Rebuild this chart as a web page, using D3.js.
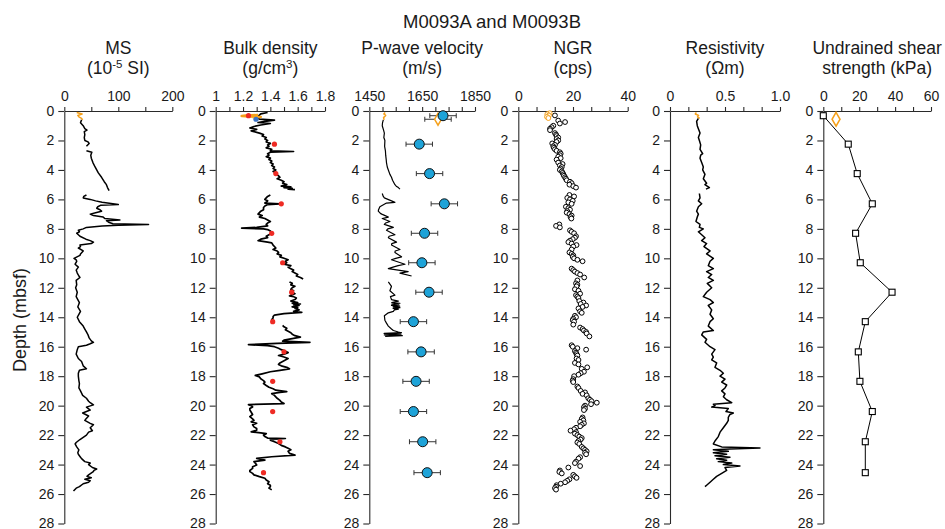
<!DOCTYPE html>
<html>
<head>
<meta charset="utf-8">
<script src="https://cdn.jsdelivr.net/npm/d3@7/dist/d3.min.js"></script>
<style>
  body { margin: 0; background: #fff; }
  svg { display: block; font-family: "Liberation Sans", Arial, Helvetica, sans-serif; }
</style>
</head>
<body>
<svg id="chart" width="945" height="529"></svg>
<script>
// ---------------- Data ----------------
// Depths (mbsf) of the discrete samples shared by MAD, P-wave and shear measurements
const sampleDepth = [0.32, 2.25, 4.25, 6.3, 8.3, 10.3, 12.3, 14.3, 16.35, 18.35, 20.4, 22.45, 24.55];
const madDensity = [1.24, 1.43, 1.44, 1.48, 1.41, 1.49, 1.556, 1.417, 1.50, 1.417, 1.417, 1.47, 1.35];
const discreteVp = [1729, 1639, 1678, 1734, 1659, 1649, 1676, 1617, 1646, 1627, 1617, 1652, 1669];
const vpError = 50;
const shearStrength = [0, 13.9, 18.9, 27.3, 18.0, 20.6, 38.3, 23.4, 19.5, 20.4, 27.3, 23.4, 23.4];

// Hole M0093B single measurements (depth, value)
const holeBDensity = [0.56, 1.295];
const holeBVp = [0.56, 1710];
const holeBShear = [0.56, 7.1];

// Magnetic susceptibility (10^-5 SI): [depth, value]; null marks a gap
const msHoleB = [[0.1,23],[0.2,33],[0.3,25],[0.4,27],[0.5,32],[0.6,34]];
const msCore = [[0.6,32],[0.8,30],[1.0,35],[1.2,38],[1.3,42],[1.4,37],[1.6,38],[1.8,37],[2.0,38],[2.1,44],[2.2,46],[2.4,41],null,
  [2.7,41],[2.8,51],[3.0,49],[3.2,50],[3.5,53],[3.8,57],[4.0,60],[4.2,63],[4.5,69],[4.8,74],[5.0,78],[5.2,80],[5.4,83],null,
  [5.7,41],[5.8,36],[5.9,35],[6.0,48],[6.1,58],[6.2,70],[6.35,100],[6.4,67],[6.5,62],[6.6,60],[6.7,66],[6.8,69],[6.9,58],[7.0,48],
  [7.1,54],[7.2,72],[7.3,75],[7.4,103],[7.45,78],[7.55,82],[7.65,90],[7.7,156],[7.75,100],[7.8,70],[7.9,41],[8.0,35],[8.1,26],
  [8.2,28],[8.3,23],[8.5,29],[8.7,40],[8.8,48],[8.9,54],[9.0,50],[9.1,29],[9.2,30],[9.3,26],[9.5,35],[9.7,30],[9.8,29],[10.0,18],
  [10.1,22],[10.2,23],[10.4,20],[10.6,26],[10.8,22],[11.0,24],[11.2,27],[11.3,29],[11.5,22],[11.8,23],[12.0,21],[12.3,24],[12.6,22],
  [12.8,25],[13.0,28],[13.3,25],[13.6,30],[13.8,27],[14.0,24],[14.3,28],[14.6,35],[14.8,38],[15.0,41],[15.2,44],[15.4,46],[15.6,50],
  [15.7,54],[15.8,48],[15.9,41],[16.0,26],[16.2,24],[16.5,22],[16.8,26],[17.0,32],[17.3,35],[17.5,41],[17.6,28],[17.8,26],[18.0,26],
  [18.3,27],[18.5,28],[18.8,27],[19.0,30],[19.3,34],[19.5,41],[19.7,45],[19.8,48],[19.95,54],[20.1,41],[20.3,48],[20.5,34],[20.7,45],
  [20.9,40],[21.0,38],[21.2,48],[21.3,54],[21.5,48],[21.7,52],[21.8,45],[22.0,41],[22.2,33],[22.3,29],[22.5,22],[22.6,20],[22.8,23],
  [23.0,27],[23.2,25],[23.3,26],[23.5,30],[23.6,32],[23.8,38],[23.9,48],[24.0,45],[24.2,52],[24.3,60],[24.4,55],[24.5,53],[24.7,45],
  [24.8,42],[24.9,50],[25.0,38],[25.1,48],[25.2,45],[25.3,35],[25.5,28],[25.6,22],[25.8,17]];

// Gamma density (g/cm3)
const densityHoleB = [[0.27,1.31],[0.31,1.22],[0.34,1.19],[0.37,1.25],[0.4,1.33],[0.43,1.27]];
const densityCore = [[0.1,1.38],[0.2,1.33],[0.45,1.30],[0.55,1.32],[0.62,1.43],[0.7,1.36],[0.78,1.31],[0.85,1.40],[0.95,1.33],
  [1.05,1.28],[1.15,1.25],[1.25,1.30],[1.35,1.26],[1.5,1.32],[1.6,1.35],[1.7,1.34],[1.8,1.37],[1.9,1.36],[2.0,1.38],[2.1,1.37],
  [2.2,1.40],[2.3,1.38],[2.4,1.39],[2.5,1.37],[2.6,1.41],[2.7,1.40],[2.75,1.57],[2.8,1.40],[2.9,1.38],[3.0,1.39],[3.1,1.37],
  [3.2,1.40],[3.3,1.39],[3.4,1.41],[3.5,1.40],[3.6,1.42],[3.7,1.41],[3.8,1.43],[3.9,1.42],[4.0,1.44],[4.1,1.42],[4.2,1.45],
  [4.3,1.44],[4.4,1.46],[4.5,1.47],[4.6,1.45],[4.7,1.48],[4.8,1.50],[4.9,1.49],[5.0,1.52],[5.1,1.48],[5.15,1.55],[5.2,1.50],
  [5.25,1.56],[5.3,1.53],[5.34,1.58],null,
  [5.7,1.40],[5.8,1.38],[5.9,1.37],[6.0,1.36],[6.1,1.38],[6.2,1.37],[6.25,1.36],[6.3,1.47],[6.35,1.38],[6.45,1.36],[6.55,1.35],
  [6.7,1.35],[6.8,1.33],[6.9,1.32],[7.0,1.31],[7.1,1.34],[7.2,1.32],[7.3,1.36],[7.4,1.38],[7.5,1.40],[7.6,1.38],[7.7,1.37],
  [7.8,1.38],[7.9,1.30],[7.95,1.19],[8.0,1.35],[8.05,1.38],[8.15,1.40],[8.25,1.41],[8.35,1.40],[8.5,1.37],[8.6,1.38],[8.7,1.33],
  [8.8,1.31],[8.9,1.38],[8.95,1.41],[9.1,1.42],[9.2,1.43],[9.3,1.44],[9.4,1.42],[9.5,1.45],[9.6,1.46],[9.7,1.45],[9.8,1.48],
  [9.9,1.47],[10.0,1.50],[10.1,1.53],[10.2,1.51],[10.3,1.52],[10.4,1.50],[10.5,1.55],[10.6,1.53],[10.7,1.55],[10.8,1.57],
  [10.9,1.56],[11.0,1.58],[11.1,1.60],[11.2,1.59],[11.3,1.62],[11.4,1.64],null,
  [11.6,1.54],[11.7,1.56],[11.8,1.55],[11.9,1.58],[12.0,1.56],[12.1,1.55],[12.2,1.57],[12.3,1.56],[12.4,1.58],[12.5,1.55],
  [12.55,1.54],[12.6,1.57],[12.7,1.59],[12.8,1.58],[12.9,1.55],[13.0,1.60],[13.05,1.56],[13.1,1.62],[13.15,1.57],[13.2,1.61],
  [13.3,1.56],[13.35,1.60],[13.4,1.58],[13.5,1.61],[13.6,1.57],[13.67,1.63],[13.75,1.50],[13.85,1.43],[13.95,1.42],[14.05,1.42],
  [14.15,1.41],[14.25,1.43],null,
  [14.55,1.49],[14.65,1.50],[14.75,1.52],[14.85,1.51],[14.95,1.53],[15.05,1.55],[15.15,1.56],[15.25,1.58],[15.35,1.62],
  [15.45,1.56],[15.55,1.50],[15.62,1.49],[15.7,1.69],[15.78,1.45],[15.86,1.24],[15.93,1.38],[16.0,1.43],[16.1,1.46],[16.2,1.48],
  [16.3,1.51],[16.4,1.53],[16.5,1.50],[16.6,1.46],[16.7,1.50],[16.8,1.53],[16.9,1.51],[17.0,1.49],[17.1,1.47],[17.2,1.46],
  [17.3,1.48],[17.4,1.52],[17.5,1.54],[17.6,1.47],[17.7,1.40],[17.84,1.34],[17.95,1.29],[18.05,1.32],[18.18,1.33],[18.3,1.35],
  [18.4,1.36],[18.5,1.35],[18.63,1.37],[18.75,1.39],[18.85,1.42],[18.95,1.44],[19.05,1.52],[19.1,1.47],[19.19,1.41],[19.3,1.43],
  [19.41,1.44],[19.5,1.45],[19.64,1.47],[19.75,1.48],[19.86,1.50],[19.93,1.24],[20.0,1.26],[20.09,1.27],[20.2,1.25],[20.3,1.25],
  [20.45,1.26],[20.6,1.27],[20.75,1.25],[20.9,1.27],[21.0,1.28],[21.1,1.26],[21.2,1.30],[21.3,1.27],[21.44,1.28],[21.55,1.30],
  [21.67,1.30],[21.78,1.26],[21.85,1.33],[21.9,1.37],[22.0,1.35],[22.1,1.36],[22.2,1.38],[22.23,1.51],[22.3,1.40],[22.34,1.40],
  [22.45,1.43],[22.57,1.46],[22.7,1.48],[22.8,1.51],[22.9,1.53],[23.0,1.55],[23.1,1.53],[23.24,1.54],[23.36,1.58],[23.47,1.41],
  [23.58,1.30],[23.7,1.36],[23.8,1.28],[23.9,1.29],[24.03,1.30],[24.15,1.27],[24.26,1.27],[24.4,1.25],[24.48,1.25],[24.6,1.27],
  [24.7,1.28],[24.82,1.32],[24.93,1.36],[25.05,1.37],[25.16,1.39],[25.3,1.38],[25.4,1.40],[25.5,1.40],[25.6,1.39],[25.72,1.41]];

// P-wave velocity logged on whole cores (m/s)
const vpHoleB = [[0.1,1510],[0.2,1505],[0.3,1512],[0.45,1504],[0.6,1506]];
const vpCore = [[0.6,1503],[0.8,1500],[1.0,1499],[1.3,1504],[1.5,1507],[1.8,1505],[2.0,1509],[2.4,1508],[2.7,1511],[3.0,1512],
  [3.3,1514],[3.5,1515],[3.8,1518],[4.0,1522],[4.3,1528],[4.5,1534],[4.7,1538],[5.0,1547],[5.1,1552],[5.2,1560],[5.3,1566],null,
  [5.6,1499],[5.8,1503],[5.9,1507],[6.1,1534],[6.2,1547],[6.25,1515],[6.5,1490],[6.7,1485],[6.8,1484],[6.95,1492],[7.0,1497],
  [7.1,1510],[7.2,1522],[7.3,1499],[7.5,1528],[7.6,1512],[7.7,1507],[7.9,1541],[8.0,1520],[8.1,1515],[8.4,1547],[8.5,1525],
  [8.6,1522],[8.9,1553],[9.0,1535],[9.1,1534],[9.4,1566],[9.5,1548],[9.6,1547],[9.9,1572],[10.0,1550],[10.1,1534],[10.4,1585],
  [10.5,1559],[10.6,1540],[10.7,1522],[10.9,1597],[11.0,1566],[11.2,1610],null,
  [11.6,1522],[11.9,1534],[12.2,1528],[12.5,1547],[12.6,1530],[12.8,1534],[12.9,1560],[13.0,1535],[13.05,1566],[13.1,1535],
  [13.15,1562],[13.2,1534],[13.25,1565],[13.3,1540],[13.35,1566],[13.4,1540],[13.45,1560],[13.5,1545],[13.6,1541],[13.7,1522],
  [13.9,1507],[14.2,1509],[14.4,1515],[14.6,1522],[14.8,1534],[14.9,1541],[15.0,1560],[15.05,1572],[15.1,1506],[15.15,1570],
  [15.2,1507],[15.25,1575],[15.3,1510]];

// Natural gamma radiation (cps)
const ngrHoleB = [[0.15,11.5],[0.22,10.6],[0.3,11.2],[0.4,10.5],[0.48,11.0]];
const ngrCore = [[0.3,13.4],[0.65,14.6],[0.75,17.1],[0.85,15.2],[1.0,12.8],[1.1,12.2],[1.2,11.6],[1.3,11.6],[1.5,13.4],[1.6,13.8],
  [1.7,14.0],[1.8,14.6],[1.9,14.0],[2.0,14.6],[2.1,14.0],[2.2,12.4],[2.3,13.4],[2.4,12.8],[2.5,13.0],[2.6,13.4],[2.7,14.0],
  [2.8,15.2],[2.9,15.5],[3.0,15.2],[3.1,14.6],[3.2,15.5],[3.3,14.0],[3.5,14.6],[3.6,16.2],[3.7,15.2],[3.8,15.9],[3.9,15.5],
  [4.0,15.2],[4.1,15.9],[4.2,16.2],[4.3,16.5],[4.4,16.7],[4.5,17.1],[4.6,17.4],[4.7,17.7],[4.8,18.9],[4.9,19.5],[5.0,18.7],
  [5.1,20.1],[5.2,21.1],[5.7,18.7],[5.8,20.4],[5.9,17.9],[6.0,18.9],[6.1,19.9],[6.2,18.3],[6.3,19.5],[6.5,17.4],[6.6,18.3],
  [6.7,18.9],[6.8,17.9],[6.9,17.7],[7.0,18.7],[7.1,19.5],[7.2,19.1],[7.3,19.4],[7.7,15.0],[7.8,13.8],[7.9,15.2],[8.1,18.9],
  [8.2,19.5],[8.3,20.4],[8.5,21.1],[8.6,20.7],[8.7,19.9],[8.8,18.9],[8.9,18.3],[9.0,19.5],[9.1,21.3],[9.2,20.1],[9.4,19.5],
  [9.6,18.7],[9.7,19.5],[9.8,20.1],[9.9,19.9],[10.0,20.4],[10.1,21.6],[10.2,23.5],[10.7,19.5],[10.8,20.1],[10.9,20.7],[11.0,21.6],
  [11.1,22.6],[11.3,24.1],[11.5,21.6],[11.7,21.1],[11.8,21.6],[11.9,21.3],[12.1,20.7],[12.2,22.0],[12.4,22.6],[12.5,21.1],
  [12.6,21.6],[12.7,22.0],[12.9,22.3],[13.0,23.8],[13.1,22.8],[13.2,24.8],[13.3,23.5],[13.4,22.0],[13.6,22.6],[13.7,23.2],
  [13.9,20.7],[14.0,21.1],[14.1,20.1],[14.2,19.9],[14.3,20.4],[14.5,20.1],[14.7,22.6],[14.8,23.5],[14.9,24.0],[15.0,24.8],
  [15.1,25.0],[15.3,26.0],[15.9,19.5],[16.0,19.9],[16.1,21.6],[16.2,24.8],[16.3,20.7],[16.4,21.1],[16.5,21.3],[16.6,21.6],
  [16.8,21.3],[16.9,22.0],[17.1,20.7],[17.2,22.0],[17.4,25.2],[17.5,23.2],[17.7,24.0],[17.8,22.8],[17.9,22.0],[18.0,20.4],
  [18.2,20.1],[18.3,19.9],[18.4,20.1],[18.7,21.6],[18.8,22.0],[19.0,22.8],[19.1,24.4],[19.2,23.5],[19.3,25.0],[19.5,25.6],
  [19.6,26.2],[19.7,26.8],[19.8,28.7],[19.9,26.6],[20.0,24.4],[20.1,24.0],[20.2,24.4],[20.3,24.0],[20.8,23.5],[20.9,23.2],
  [21.0,23.8],[21.1,22.6],[21.2,24.0],[21.3,23.2],[21.4,22.6],[21.5,21.1],[21.6,20.4],[21.7,19.1],[21.8,21.1],[21.9,20.7],
  [22.0,21.6],[22.1,22.3],[22.2,23.2],[22.3,22.8],[22.4,22.0],[22.5,21.6],[22.6,22.3],[22.8,23.2],[22.9,23.8],[23.0,24.4],
  [23.1,25.0],[23.2,24.4],[23.3,24.8],[23.5,22.6],[23.6,22.0],[23.8,21.1],[23.9,20.7],[24.1,22.6],[24.2,18.3],[24.4,15.2],
  [24.5,15.0],[24.6,15.9],[24.7,20.1],[24.8,20.7],[24.9,21.3],[25.0,18.7],[25.1,17.9],[25.2,17.1],[25.3,15.5],[25.4,14.0],
  [25.5,13.8],[25.6,13.4],[25.7,13.8]];

// Electrical resistivity (Ωm)
const resHoleB = [[0.1,0.24],[0.2,0.23],[0.3,0.26],[0.4,0.25],[0.5,0.27]];
const resCore = [[0.5,0.258],[0.7,0.242],[1.0,0.248],[1.2,0.258],[1.5,0.273],[1.8,0.258],[2.0,0.267],[2.3,0.279],[2.6,0.273],
  [2.9,0.297],[3.0,0.279],[3.2,0.273],[3.5,0.288],[3.8,0.303],[4.0,0.297],[4.3,0.318],[4.6,0.303],[4.9,0.333],[5.0,0.318],
  [5.2,0.358],[5.3,0.327],null,
  [5.6,0.267],[5.9,0.273],[6.1,0.258],[6.3,0.288],[6.5,0.258],[6.8,0.242],[7.0,0.258],[7.2,0.248],[7.5,0.236],[7.7,0.273],
  [7.9,0.267],[8.0,0.303],[8.2,0.258],[8.4,0.288],[8.6,0.318],[8.8,0.288],[9.0,0.333],[9.2,0.309],[9.5,0.364],[9.7,0.333],
  [10.0,0.394],[10.2,0.364],[10.5,0.348],[10.7,0.394],[10.9,0.333],[11.1,0.379],[11.3,0.348],[11.5,0.394],[11.7,0.339],
  [12.0,0.379],[12.3,0.333],[12.6,0.303],[12.8,0.364],[13.0,0.394],[13.2,0.348],[13.5,0.379],[13.8,0.364],[14.1,0.394],
  [14.3,0.364],[14.6,0.348],[14.9,0.394],[15.0,0.303],[15.2,0.288],[15.5,0.333],[15.7,0.318],[16.0,0.364],[16.2,0.409],
  [16.5,0.379],[16.7,0.394],[16.9,0.379],[17.1,0.424],[17.4,0.409],[17.6,0.455],[17.8,0.485],[18.0,0.455],[18.2,0.500],
  [18.4,0.470],[18.6,0.515],[18.8,0.500],[19.0,0.470],[19.2,0.500],[19.4,0.485],[19.6,0.515],[19.8,0.561],[19.9,0.394],
  [20.0,0.409],[20.1,0.379],[20.2,0.530],[20.4,0.509],[20.5,0.576],[20.6,0.545],[20.8,0.530],[21.0,0.530],[21.2,0.515],
  [21.5,0.485],[21.8,0.455],[22.1,0.439],[22.4,0.409],[22.6,0.394],[22.8,0.470],[22.88,0.818],[22.95,0.545],[23.0,0.394],
  [23.1,0.530],[23.2,0.394],[23.3,0.515],[23.4,0.409],[23.5,0.545],[23.6,0.424],[23.7,0.515],[23.8,0.439],[23.9,0.561],
  [24.0,0.485],[24.1,0.636],[24.2,0.500],[24.4,0.515],[24.6,0.470],[24.8,0.424],[25.0,0.394],[25.2,0.364],[25.4,0.333],
  [25.5,0.318]];

// Axis tick values and the subset that carries labels
const msTicks = [0, 50, 100, 150, 200], msLabels = [0, 100, 200];
const densityTicks = [1, 1.1, 1.2, 1.3, 1.4, 1.5, 1.6, 1.7, 1.8], densityLabels = [1, 1.2, 1.4, 1.6, 1.8];
const vpTicks = [1450, 1500, 1550, 1600, 1650, 1700, 1750, 1800, 1850], vpLabels = [1450, 1650, 1850];
const ngrTicks = [0, 40/6, 80/6, 20, 160/6, 200/6, 40], ngrLabels = [0, 20, 40];
const resTicks = [0, 1/6, 2/6, 0.5, 4/6, 5/6, 1], resLabels = [0, 0.5, 1.0];
const shearTicks = [0, 10, 20, 30, 40, 50, 60], shearLabels = [0, 20, 40, 60];
const depthTicks = [0, 2, 4, 6, 8, 10, 12, 14, 16, 18, 20, 22, 24, 26, 28];

// ---------------- Layout ----------------
const svg = d3.select("#chart");
const ORANGE = "#f5a01a";
const AXIS = "#2a2a2a";
const y = d3.scaleLinear().domain([0, 28]).range([111, 523.5]);

const panels = [
  { id: "ms", title: ["MS", ["(10", "-5", " SI)"]], domain: [0, 200], range: [64.3, 172.3], ticks: msTicks, labels: msLabels, fmt: d3.format("d") },
  { id: "den", title: ["Bulk density", ["(g/cm", "3", ")"]], domain: [1, 1.8], range: [215.7, 325], ticks: densityTicks, labels: densityLabels, fmt: d => d === 1 ? "1" : d3.format(".1f")(d) },
  { id: "vp", title: ["P-wave velocity", ["(m/s)"]], domain: [1450, 1850], range: [369.3, 475], ticks: vpTicks, labels: vpLabels, fmt: d3.format("d") },
  { id: "ngr", title: ["NGR", ["(cps)"]], domain: [0, 40], range: [518.3, 627.7], ticks: ngrTicks, labels: ngrLabels, fmt: d3.format("d") },
  { id: "res", title: ["Resistivity", ["(Ωm)"]], domain: [0, 1], range: [670, 780], ticks: resTicks, labels: resLabels, fmt: d => d === 0 ? "0" : d3.format(".1f")(d) },
  { id: "shear", title: ["Undrained shear", ["strength (kPa)"]], domain: [0, 60], range: [823.3, 931], ticks: shearTicks, labels: shearLabels, fmt: d3.format("d") }
];

const xs = {};
panels.forEach(p => {
  const x = d3.scaleLinear().domain(p.domain).range(p.range);
  xs[p.id] = x;
  const cx = (p.range[0] + p.range[1]) / 2;

  // two-line panel heading
  svg.append("text").attr("x", cx).attr("y", 53.5).attr("text-anchor", "middle")
    .attr("font-size", 17.5).attr("fill", "#1a1a1a").text(p.title[0]);
  const sub = svg.append("text").attr("x", cx).attr("y", 73.5).attr("text-anchor", "middle")
    .attr("font-size", 17.5).attr("fill", "#1a1a1a");
  const parts = p.title[1];
  sub.append("tspan").text(parts[0]);
  if (parts.length > 1) {
    sub.append("tspan").attr("dy", -6).attr("font-size", 11.5).text(parts[1]);
    sub.append("tspan").attr("dy", 6).text(parts[2]);
  }

  // top value axis
  const xAxis = d3.axisTop(x).tickValues(p.ticks).tickSize(4).tickSizeOuter(0).tickPadding(6)
    .tickFormat(d => p.labels.some(l => Math.abs(l - d) < 1e-9) ? p.fmt(d) : "");
  const gx = svg.append("g").attr("transform", `translate(0,${y(0)})`).call(xAxis);

  // depth axis
  const yAxis = d3.axisLeft(y).tickValues(depthTicks).tickSize(6).tickSizeOuter(0).tickPadding(4)
    .tickFormat(d3.format("d"));
  const gy = svg.append("g").attr("transform", `translate(${p.range[0]},0)`).call(yAxis);

  [gx, gy].forEach(g => {
    g.selectAll("path").attr("stroke", AXIS).attr("stroke-width", 1.1);
    g.selectAll("line").attr("stroke", AXIS).attr("stroke-width", 1.1);
    g.selectAll("text").attr("font-size", 14).attr("fill", "#1a1a1a")
      .attr("font-family", "Liberation Sans, Arial, sans-serif");
  });
});

// main heading and depth label
svg.append("text").attr("x", 492).attr("y", 28).attr("text-anchor", "middle")
  .attr("font-size", 18.5).attr("fill", "#1a1a1a").text("M0093A and M0093B");
svg.append("text").attr("transform", "translate(26,320) rotate(-90)").attr("text-anchor", "middle")
  .attr("font-size", 18).attr("fill", "#1a1a1a").text("Depth (mbsf)");

// line helper: each series is [depth, value] with null gaps
function drawLine(id, data, color, width) {
  const x = xs[id];
  const line = d3.line().defined(d => d !== null).x(d => x(d[1])).y(d => y(d[0]));
  svg.append("path").datum(data).attr("d", line).attr("fill", "none")
    .attr("stroke", color).attr("stroke-width", width).attr("stroke-linejoin", "round");
}

// MS
drawLine("ms", msCore, "#000", 1.5);
drawLine("ms", msHoleB, ORANGE, 1.5);

// Bulk density
drawLine("den", densityCore, "#000", 1.7);
drawLine("den", densityHoleB, ORANGE, 2.5);
svg.append("g").selectAll("circle").data(sampleDepth).join("circle")
  .attr("cx", (d, i) => xs.den(madDensity[i])).attr("cy", d => y(d)).attr("r", 2.6).attr("fill", "#ee2b24");
svg.append("circle").attr("cx", xs.den(holeBDensity[1])).attr("cy", y(holeBDensity[0])).attr("r", 2.6).attr("fill", "#3d74c6");

// P-wave velocity
drawLine("vp", vpCore, "#000", 1.2);
drawLine("vp", vpHoleB, ORANGE, 1.5);
function errorBar(g, x, depth, v, err) {
  const yy = y(depth);
  g.append("line").attr("x1", x(v - err)).attr("x2", x(v + err)).attr("y1", yy).attr("y2", yy);
  g.append("line").attr("x1", x(v - err)).attr("x2", x(v - err)).attr("y1", yy - 2.5).attr("y2", yy + 2.5);
  g.append("line").attr("x1", x(v + err)).attr("x2", x(v + err)).attr("y1", yy - 2.5).attr("y2", yy + 2.5);
}
const eb = svg.append("g").attr("stroke", "#333").attr("stroke-width", 1);
sampleDepth.forEach((d, i) => errorBar(eb, xs.vp, d, discreteVp[i], vpError));
errorBar(eb, xs.vp, holeBVp[0], holeBVp[1], vpError);
const dia = d3.symbol().type(d3.symbolDiamond).size(40);
svg.append("path").attr("d", dia()).attr("transform", `translate(${xs.vp(holeBVp[1])},${y(holeBVp[0])})`)
  .attr("fill", "#fff").attr("stroke", ORANGE).attr("stroke-width", 1.5);
svg.append("g").selectAll("circle").data(sampleDepth).join("circle")
  .attr("cx", (d, i) => xs.vp(discreteVp[i])).attr("cy", d => y(d)).attr("r", 5)
  .attr("fill", "#1ea3d8").attr("stroke", "#111").attr("stroke-width", 1);

// NGR
svg.append("g").selectAll("circle").data(ngrCore).join("circle")
  .attr("cx", d => xs.ngr(d[1])).attr("cy", d => y(d[0])).attr("r", 2.4)
  .attr("fill", "#fff").attr("stroke", "#000").attr("stroke-width", 1);
svg.append("g").selectAll("circle").data(ngrHoleB).join("circle")
  .attr("cx", d => xs.ngr(d[1])).attr("cy", d => y(d[0])).attr("r", 2.4)
  .attr("fill", "#fff").attr("stroke", ORANGE).attr("stroke-width", 1);

// Resistivity
drawLine("res", resCore, "#000", 1.5);
drawLine("res", resHoleB, ORANGE, 1.5);

// Undrained shear strength
svg.append("path").datum(sampleDepth).attr("fill", "none").attr("stroke", "#000").attr("stroke-width", 1)
  .attr("d", d3.line().x((d, i) => xs.shear(shearStrength[i])).y(d => y(d)));
svg.append("g").selectAll("rect").data(sampleDepth).join("rect")
  .attr("x", (d, i) => xs.shear(shearStrength[i]) - 3).attr("y", d => y(d) - 3)
  .attr("width", 6).attr("height", 6).attr("fill", "#fff").attr("stroke", "#000").attr("stroke-width", 1.1);
svg.append("path").attr("d", d3.symbol().type(d3.symbolDiamond).size(55)())
  .attr("transform", `translate(${xs.shear(holeBShear[1])},${y(holeBShear[0])})`)
  .attr("fill", "#fff").attr("stroke", ORANGE).attr("stroke-width", 1.5);
</script>
</body>
</html>
